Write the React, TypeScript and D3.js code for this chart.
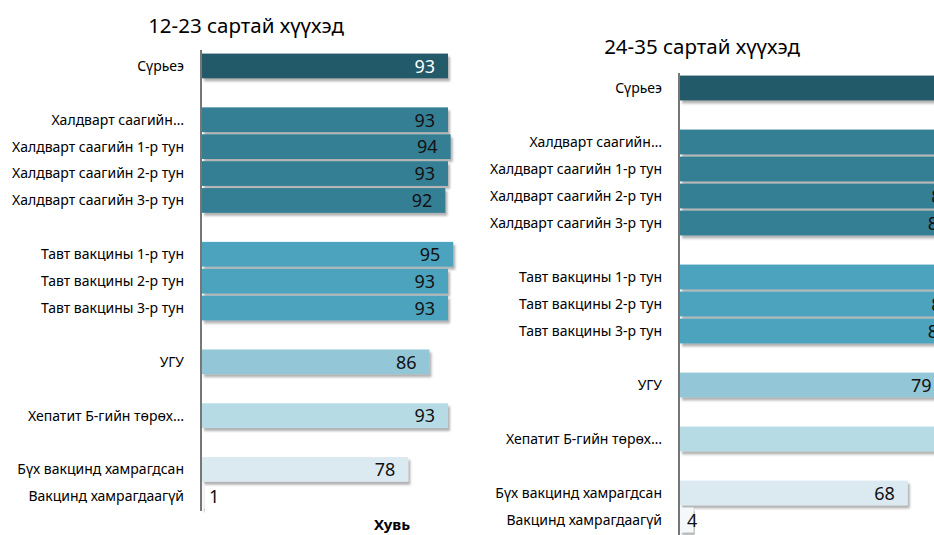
import { useEffect, useRef } from 'react';
import * as d3 from 'd3';

// categories (blank keys are spacer rows between groups)
const slots = [
  'Сүрьеэ', 'g1',
  'Халдварт саагийн…', 'Халдварт саагийн 1-р тун', 'Халдварт саагийн 2-р тун', 'Халдварт саагийн 3-р тун', 'g2',
  'Тавт вакцины 1-р тун', 'Тавт вакцины 2-р тун', 'Тавт вакцины 3-р тун', 'g3',
  'УГУ', 'g4',
  'Хепатит Б-гийн төрөх…', 'g5',
  'Бүх вакцинд хамрагдсан', 'Вакцинд хамрагдаагүй',
];
const labels = slots.filter(s => !/^g\d$/.test(s));
const colors = ['#245a69', '#347f95', '#347f95', '#347f95', '#347f95', '#4ca3bd', '#4ca3bd', '#4ca3bd', '#93c6d6', '#b6dbe4', '#dbe9f0', '#f4f8fa'];
const values1223 = [93, 93, 94, 93, 92, 95, 93, 93, 86, 93, 78, 1];
const values2435 = [92, 90, 89, 85, 84, 89, 85, 84, 79, 88, 68, 4];

const Panel = ({ svg, title, values, axisX, x100, y0, step, axisTop, axisBottom, titleX, titleY, fid }) => {
  const x = d3.scaleLinear().domain([0, 100]).range([axisX, x100]);
  const y = d3.scaleBand().domain(slots).range([y0, y0 + step * slots.length]).paddingInner(0.08).paddingOuter(0.04);
  const g = svg.append('g');

  g.append('text').attr('x', titleX).attr('y', titleY).attr('text-anchor', 'middle')
    .style('font-size', '20.5px').text(title);

  const rows = labels.map((l, i) => ({ label: l, value: values[i], color: colors[i] }));

  g.selectAll('rect.bar').data(rows).join('rect')
    .attr('class', 'bar')
    .attr('x', axisX + 1)
    .attr('y', d => y(d.label))
    .attr('width', d => x(d.value) - axisX)
    .attr('height', y.bandwidth())
    .attr('fill', d => d.color)
    .attr('filter', `url(#${fid})`);

  g.selectAll('text.lab').data(rows).join('text')
    .attr('class', 'lab')
    .attr('x', axisX - 17)
    .attr('y', d => y(d.label) + y.bandwidth() / 2)
    .attr('dy', '0.35em')
    .attr('text-anchor', 'end')
    .style('font-size', '14px')
    .text(d => d.label);

  g.selectAll('text.val').data(rows).join('text')
    .attr('class', 'val')
    .attr('x', d => d.value < 10 ? axisX + 8 : x(d.value) - 12)
    .attr('y', d => y(d.label) + y.bandwidth() / 2)
    .attr('dy', '0.38em')
    .attr('text-anchor', d => d.value < 10 ? 'start' : 'end')
    .attr('fill', (d, i) => i === 0 ? '#fff' : '#111')
    .style('font-size', '18px')
    .text(d => d.value);

  g.append('line').attr('x1', axisX).attr('x2', axisX).attr('y1', axisTop).attr('y2', axisBottom)
    .attr('stroke', '#777').attr('stroke-width', 2);
};

export default function App() {
  const ref = useRef(null);

  useEffect(() => {
    const svg = d3.select(ref.current);
    svg.selectAll('*').remove();
    const defs = svg.append('defs');
    defs.append('filter').attr('id', 'sh').attr('x', '-5%').attr('y', '-20%').attr('width', '115%').attr('height', '160%')
      .append('feDropShadow').attr('dx', 2).attr('dy', 3).attr('stdDeviation', 1.2)
      .attr('flood-color', '#555').attr('flood-opacity', 0.45);

    Panel({ svg, title: '12-23 сартай хүүхэд', values: values1223, axisX: 201, x100: 465.5,
      y0: 52.5, step: 26.9, axisTop: 50, axisBottom: 511, titleX: 246, titleY: 33, fid: 'sh' });
    Panel({ svg, title: '24-35 сартай хүүхэд', values: values2435, axisX: 679, x100: 1014,
      y0: 74.5, step: 27, axisTop: 73, axisBottom: 535, titleX: 702, titleY: 54, fid: 'sh' });

    svg.append('text').attr('x', 392).attr('y', 530).attr('text-anchor', 'middle')
      .style('font-size', '15px').style('font-weight', 'bold').text('Хувь');
  }, []);

  return (
    <svg ref={ref} width={934} height={535}
      style={{ position: 'absolute', left: 0, top: 0, fontFamily: "'Noto Sans', sans-serif", background: '#fff' }} />
  );
}
